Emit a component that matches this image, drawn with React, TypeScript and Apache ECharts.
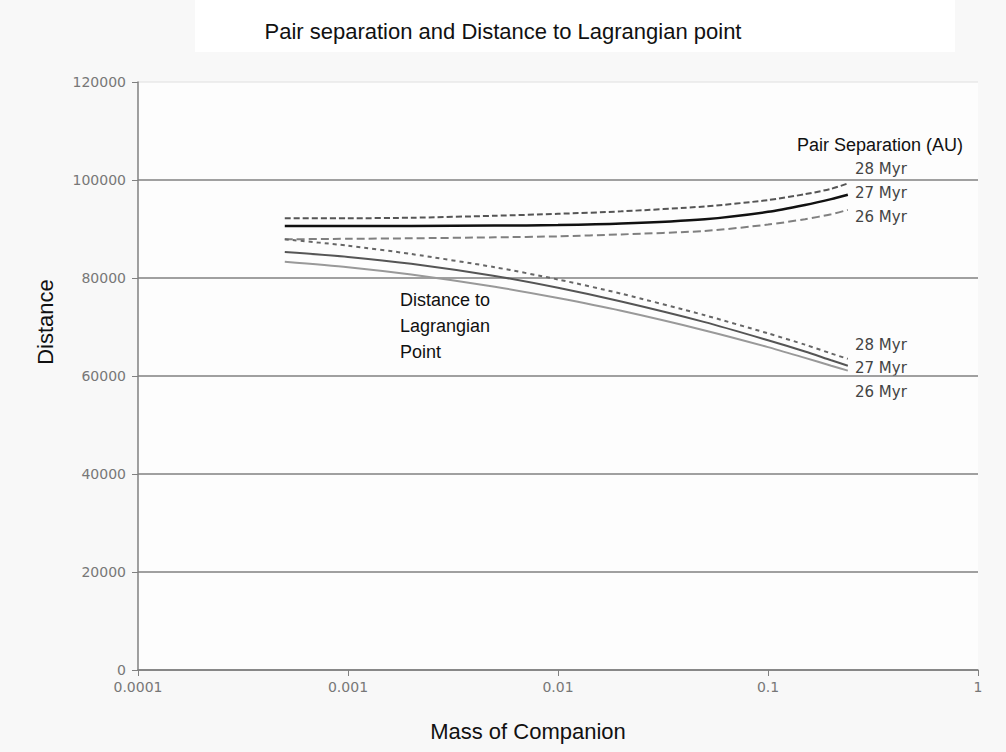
import React, { useEffect, useRef } from "react";
import * as echarts from "echarts";

const masses = [0.0005, 0.001, 0.002, 0.005, 0.01, 0.02, 0.05, 0.1, 0.15, 0.2, 0.24];

const pairSep28 = [92200, 92200, 92300, 92700, 93100, 93600, 94600, 95900, 97100, 98200, 99300];
const pairSep27 = [90600, 90600, 90600, 90700, 90800, 91100, 92000, 93500, 94900, 96100, 97000];
const pairSep26 = [87900, 88000, 88100, 88300, 88500, 88900, 89600, 90900, 92000, 93000, 93900];

const lagr28 = [87900, 86600, 84900, 82200, 79700, 76800, 72400, 68700, 66400, 64600, 63500];
const lagr27 = [85300, 84300, 82900, 80400, 78000, 75200, 71000, 67300, 65000, 63200, 62100];
const lagr26 = [83300, 82200, 80700, 78200, 75900, 73300, 69300, 65900, 63700, 62100, 61100];

const xTicks = [0.0001, 0.001, 0.01, 0.1, 1];
const xTickLabels = ["0.0001", "0.001", "0.01", "0.1", "1"];

const toPoints = (vals: number[]) => masses.map((m, i) => [m, vals[i]]);

export default function App() {
  const ref = useRef<HTMLDivElement>(null);
  useEffect(() => {
    document.body.style.margin = "0";
    if (!ref.current) return;
    const chart = echarts.init(ref.current, undefined, { renderer: "svg" });
    const lineS = (name: string, vals: number[], color: string, width: number, type: any) => ({
      name,
      type: "line",
      data: toPoints(vals),
      showSymbol: false,
      symbol: "none",
      smooth: 0.25,
      lineStyle: { color, width, type },
      z: 3,
    });
    const tickFont = { fontFamily: "DejaVu Sans", fontSize: 14, color: "#777777" };
    const myr = (text: string, top: number) => ({
      type: "text", left: 855, top,
      style: { text, fontFamily: "DejaVu Sans", fontSize: 15, fill: "#444" },
    });
    chart.setOption({
      animation: false,
      backgroundColor: "#f8f8f8",
      title: {
        text: "Pair separation and Distance to Lagrangian point",
        left: "center",
        top: 15,
        textStyle: { fontFamily: "Liberation Sans", fontSize: 22, fontWeight: "normal", color: "#111" },
      },
      graphic: [
        { type: "rect", z: -1, shape: { x: 195, y: 0, width: 760, height: 52 }, style: { fill: "#ffffff" } },
        { type: "rect", z: -1, shape: { x: 138, y: 82, width: 840, height: 588 }, style: { fill: "#fdfdfd" } },
        {
          type: "text", left: 797, top: 136,
          style: { text: "Pair Separation (AU)", fontFamily: "Liberation Sans", fontSize: 18, fill: "#111" },
        },
        myr("28 Myr", 161),
        myr("27 Myr", 185),
        myr("26 Myr", 209),
        myr("28 Myr", 337),
        myr("27 Myr", 360),
        myr("26 Myr", 384),
        {
          type: "text", left: 400, top: 287,
          style: { text: "Distance to\nLagrangian\nPoint", lineHeight: 26, fontFamily: "Liberation Sans", fontSize: 18, fill: "#111" },
        },
      ],
      grid: { left: 138, right: 28, top: 82, bottom: 82 },
      xAxis: {
        type: "log",
        logBase: 10,
        min: 0.0001,
        max: 1,
        name: "Mass of Companion",
        nameLocation: "middle",
        nameGap: 50,
        nameTextStyle: { fontFamily: "Liberation Sans", fontSize: 22, color: "#111", padding: [0, 60, 0, 0] },
        axisLine: { lineStyle: { color: "#808080", width: 1.5 } },
        axisTick: { show: true, inside: false, length: 6, lineStyle: { color: "#808080" } },
        axisLabel: {
          ...tickFont,
          margin: 10,
          formatter: (v: number) => {
            const i = xTicks.findIndex((t) => Math.abs(Math.log10(t) - Math.log10(v)) < 1e-6);
            return i >= 0 ? xTickLabels[i] : "";
          },
        },
        splitLine: { show: false },
      },
      yAxis: {
        type: "value",
        min: 0,
        max: 120000,
        interval: 20000,
        name: "Distance",
        nameLocation: "middle",
        nameGap: 82,
        nameRotate: 90,
        nameTextStyle: { fontFamily: "Liberation Sans", fontSize: 22, color: "#111", padding: [0, 0, 0, 108] },
        axisLine: { show: true, lineStyle: { color: "#808080", width: 1.5 } },
        axisTick: { show: true, inside: false, length: 6, lineStyle: { color: "#808080" } },
        axisLabel: { ...tickFont, margin: 12, formatter: (v: number) => String(v) },
        splitLine: {
          show: true,
          lineStyle: { color: ["#808080", "#808080", "#808080", "#808080", "#808080", "#808080", "#e8e8e8"], width: 1.5 },
        },
      },
      series: [
        lineS("Pair separation 28 Myr", pairSep28, "#555555", 2, [6, 3]),
        lineS("Pair separation 27 Myr", pairSep27, "#111111", 2.5, "solid"),
        lineS("Pair separation 26 Myr", pairSep26, "#808080", 2, [8, 4]),
        lineS("Distance to Lagrangian point 28 Myr", lagr28, "#666666", 2, [4, 4]),
        lineS("Distance to Lagrangian point 27 Myr", lagr27, "#555555", 2, "solid"),
        lineS("Distance to Lagrangian point 26 Myr", lagr26, "#999999", 2, "solid"),
      ],
    });
    return () => chart.dispose();
  }, []);
  return <div ref={ref} style={{ width: 1006, height: 752 }} />;
}
